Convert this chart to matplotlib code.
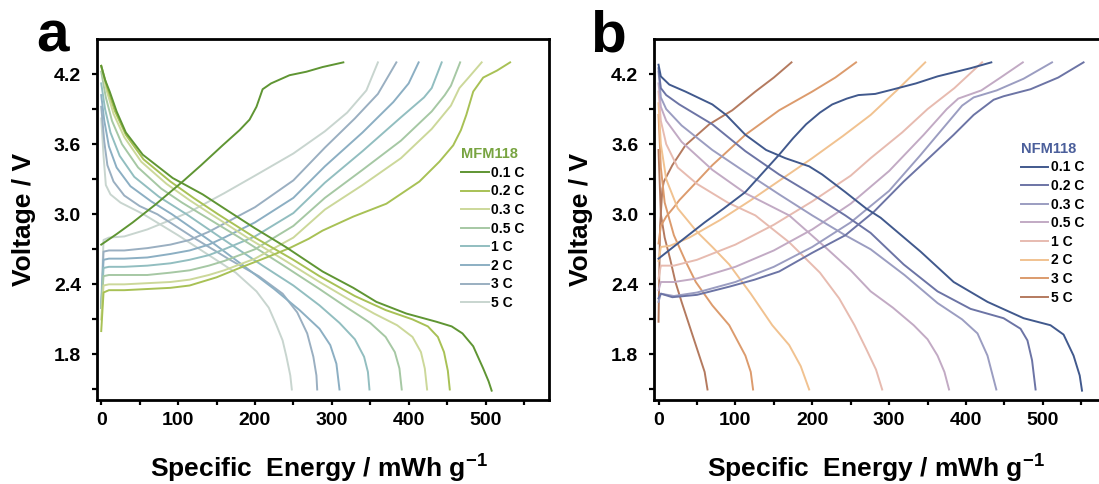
import matplotlib
matplotlib.use("Agg")
import matplotlib.pyplot as plt
from matplotlib.ticker import MultipleLocator

plt.rcParams["font.family"] = ["Liberation Sans", "DejaVu Sans"]
plt.rcParams["font.weight"] = "bold"
plt.rcParams["mathtext.fontset"] = "custom"
plt.rcParams["mathtext.rm"] = "Liberation Sans:bold"
plt.rcParams["mathtext.default"] = "rm"

RATES = ["0.1 C", "0.2 C", "0.3 C", "0.5 C", "1 C", "2 C", "3 C", "5 C"]

# ---- panel a : MFM118 (x = mWh/g, v = V) ----
A_COLORS = ["#5f9533", "#a8c155", "#ccd89a", "#a6c8a4", "#92bec0", "#8cafc3", "#9aafc1", "#c8d5cf"]
A_DIS_X = [
    [0, 5, 11, 20, 32, 54, 93, 132, 167, 200, 240, 288, 328, 358, 397, 436, 456, 470, 484, 497, 504, 508],
    [0, 8, 18, 32, 55, 90, 120, 152, 200, 250, 284, 330, 370, 405, 425, 438, 446, 451, 453.5],
    [0, 7, 16, 30, 52, 85, 115, 143, 190, 240, 284, 320, 355, 385, 405, 416, 421, 424],
    [0, 6, 14, 27, 48, 78, 105, 130, 180, 235, 284, 320, 350, 370, 382, 388, 391],
    [0, 5, 12, 24, 43, 75, 111, 160, 210, 250, 284, 310, 330, 342, 347, 349],
    [0, 4, 10, 20, 38, 65, 92, 140, 185, 225, 258, 284, 298, 306, 310],
    [0, 4, 8, 16, 30, 50, 73, 120, 165, 205, 236, 255, 268, 276, 280, 281],
    [0, 3, 6, 12, 25, 40, 55, 100, 140, 175, 202, 218, 228, 236, 241, 246, 248],
]
A_DIS_V = [
    [4.27, 4.15, 4.05, 3.88, 3.70, 3.51, 3.31, 3.17, 3.02, 2.88, 2.72, 2.51, 2.37, 2.25, 2.15, 2.08, 2.04, 1.98, 1.87, 1.68, 1.57, 1.49],
    [4.27, 4.08, 3.88, 3.68, 3.47, 3.28, 3.14, 3.00, 2.80, 2.61, 2.47, 2.30, 2.18, 2.10, 2.04, 1.95, 1.82, 1.66, 1.50],
    [4.27, 4.06, 3.86, 3.66, 3.45, 3.26, 3.12, 3.00, 2.80, 2.60, 2.42, 2.28, 2.15, 2.05, 1.95, 1.82, 1.68, 1.50],
    [4.22, 4.00, 3.80, 3.60, 3.40, 3.22, 3.10, 3.00, 2.80, 2.57, 2.36, 2.20, 2.07, 1.95, 1.82, 1.68, 1.50],
    [4.12, 3.90, 3.70, 3.50, 3.32, 3.15, 3.00, 2.78, 2.56, 2.39, 2.22, 2.07, 1.93, 1.78, 1.65, 1.50],
    [4.02, 3.80, 3.58, 3.40, 3.24, 3.11, 3.00, 2.78, 2.56, 2.36, 2.18, 2.02, 1.88, 1.72, 1.50],
    [3.92, 3.62, 3.42, 3.28, 3.16, 3.07, 3.00, 2.80, 2.62, 2.47, 2.32, 2.16, 1.98, 1.78, 1.62, 1.50],
    [3.82, 3.50, 3.25, 3.17, 3.10, 3.05, 3.00, 2.82, 2.65, 2.50, 2.34, 2.20, 2.05, 1.92, 1.78, 1.62, 1.50],
]
A_CH_X = [
    [0, 20, 41, 70, 106, 130, 158, 180, 193, 202, 210, 221, 245, 267, 288, 315],
    [0, 3, 10, 30, 60, 90, 115, 150, 180, 215, 245, 270, 288, 328, 371, 414, 440, 458, 468, 475, 484, 497, 515, 532],
    [0, 3, 10, 30, 60, 90, 115, 140, 160, 200, 250, 291, 340, 390, 430, 455, 466, 478, 495],
    [0, 3, 10, 30, 60, 90, 115, 140, 160, 200, 250, 291, 340, 390, 430, 447, 455, 467],
    [0, 3, 10, 30, 60, 90, 115, 140, 160, 200, 250, 291, 340, 390, 420, 430, 443],
    [0, 3, 10, 30, 60, 90, 115, 140, 160, 200, 250, 291, 340, 380, 400, 413],
    [0, 3, 10, 30, 60, 90, 115, 140, 160, 200, 250, 291, 330, 360, 384],
    [0, 3, 10, 30, 60, 90, 115, 160, 200, 250, 291, 320, 345, 360],
]
A_CH_V = [
    [2.74, 2.83, 2.93, 3.08, 3.28, 3.42, 3.59, 3.72, 3.81, 3.92, 4.07, 4.12, 4.19, 4.22, 4.26, 4.30],
    [2.00, 2.33, 2.35, 2.35, 2.36, 2.37, 2.39, 2.46, 2.54, 2.63, 2.71, 2.79, 2.86, 2.98, 3.09, 3.28, 3.45, 3.59, 3.72, 3.85, 4.05, 4.17, 4.23, 4.30],
    [2.10, 2.39, 2.40, 2.40, 2.41, 2.42, 2.44, 2.48, 2.52, 2.62, 2.80, 3.04, 3.25, 3.48, 3.73, 3.93, 4.08, 4.17, 4.30],
    [2.20, 2.47, 2.48, 2.48, 2.48, 2.50, 2.52, 2.56, 2.60, 2.70, 2.90, 3.14, 3.38, 3.63, 3.88, 4.02, 4.10, 4.30],
    [2.20, 2.54, 2.55, 2.55, 2.56, 2.58, 2.61, 2.65, 2.70, 2.81, 3.01, 3.27, 3.54, 3.83, 4.00, 4.08, 4.30],
    [2.20, 2.61, 2.62, 2.62, 2.63, 2.66, 2.69, 2.74, 2.80, 2.93, 3.14, 3.41, 3.70, 3.96, 4.12, 4.30],
    [2.20, 2.68, 2.69, 2.69, 2.71, 2.74, 2.78, 2.85, 2.92, 3.06, 3.29, 3.57, 3.82, 4.03, 4.30],
    [2.25, 2.78, 2.80, 2.81, 2.87, 2.95, 3.02, 3.18, 3.33, 3.52, 3.71, 3.87, 4.06, 4.30],
]

# ---- panel b : NFM118 ----
B_COLORS = ["#41598d", "#6c74a5", "#9b9dc1", "#c2aac4", "#e7bbb0", "#f1c290", "#dc9b6d", "#b47a5f"]
B_DIS_X = [
    [0, 3, 14, 35, 70, 88, 113, 140, 165, 196, 213, 243, 270, 289, 341, 384, 428, 475, 510, 527, 540, 548, 551],
    [0, 3, 10, 27, 70, 113, 157, 200, 243, 276, 319, 363, 406, 449, 471, 480, 486, 490.6],
    [0, 3, 10, 30, 70, 113, 157, 200, 243, 276, 320, 363, 395, 415, 428, 439.5],
    [0, 3, 10, 30, 70, 113, 170, 220, 250, 276, 305, 332, 350, 363, 372, 378],
    [0, 3, 10, 25, 50, 90, 126, 170, 210, 235, 255, 270, 283, 291],
    [0, 3, 10, 25, 50, 70, 92, 120, 148, 170, 185, 196],
    [0, 3, 8, 20, 35, 48.5, 70, 92, 113, 120, 123],
    [0, 3, 8, 15, 22, 30, 40, 53, 60, 63.7],
]
B_DIS_V = [
    [4.28, 4.18, 4.11, 4.05, 3.94, 3.85, 3.68, 3.55, 3.48, 3.41, 3.34, 3.19, 3.05, 2.97, 2.68, 2.42, 2.25, 2.11, 2.05, 1.97, 1.79, 1.62, 1.49],
    [4.25, 4.08, 4.02, 3.94, 3.77, 3.54, 3.34, 3.17, 2.99, 2.84, 2.57, 2.34, 2.19, 2.11, 2.02, 1.92, 1.75, 1.50],
    [4.22, 4.00, 3.90, 3.76, 3.55, 3.36, 3.17, 2.99, 2.82, 2.70, 2.48, 2.24, 2.10, 1.98, 1.79, 1.50],
    [4.12, 3.92, 3.80, 3.62, 3.38, 3.18, 2.99, 2.70, 2.52, 2.34, 2.20, 2.05, 1.93, 1.79, 1.65, 1.50],
    [4.05, 3.80, 3.60, 3.40, 3.26, 3.10, 2.99, 2.76, 2.50, 2.28, 2.05, 1.85, 1.67, 1.50],
    [3.95, 3.60, 3.30, 3.05, 2.85, 2.72, 2.57, 2.32, 2.05, 1.88, 1.70, 1.50],
    [3.85, 3.40, 3.10, 2.82, 2.60, 2.42, 2.22, 2.05, 1.79, 1.65, 1.50],
    [3.55, 3.00, 2.80, 2.62, 2.42, 2.25, 2.05, 1.79, 1.65, 1.50],
]
B_CH_X = [
    [0, 27, 60, 85, 113, 135, 157, 175, 192, 210, 226, 245, 260, 282, 306, 335, 363, 406, 433],
    [0, 3, 18, 50, 92, 125, 157, 200, 243, 280, 319, 350, 384, 410, 436, 449, 484, 520, 553],
    [0, 3, 20, 50, 100, 150, 200, 250, 300, 340, 363, 395, 410, 440, 475, 512],
    [0, 3, 20, 50, 100, 150, 200, 250, 300, 345, 375, 390, 420, 445, 474],
    [0, 3, 20, 50, 100, 150, 200, 250, 276, 317, 350, 385, 421],
    [0, 3, 15, 40, 80, 120, 160, 200, 240, 276, 310, 347],
    [0, 3, 10, 20, 27, 50, 70, 113, 157, 200, 230, 257],
    [0, 2, 5, 7, 18, 35, 66, 96, 126, 150, 173],
]
B_CH_V = [
    [2.62, 2.76, 2.93, 3.05, 3.19, 3.35, 3.51, 3.65, 3.77, 3.87, 3.94, 3.99, 4.02, 4.03, 4.07, 4.12, 4.18, 4.25, 4.30],
    [2.28, 2.32, 2.29, 2.31, 2.38, 2.44, 2.51, 2.67, 2.82, 3.02, 3.28, 3.47, 3.68, 3.85, 3.98, 4.01, 4.07, 4.17, 4.30],
    [2.25, 2.32, 2.30, 2.33, 2.42, 2.55, 2.72, 2.93, 3.20, 3.50, 3.68, 3.93, 4.00, 4.06, 4.16, 4.30],
    [2.35, 2.42, 2.42, 2.45, 2.55, 2.69, 2.87, 3.09, 3.37, 3.68, 3.90, 3.99, 4.06, 4.17, 4.30],
    [2.45, 2.56, 2.56, 2.61, 2.74, 2.91, 3.11, 3.33, 3.48, 3.70, 3.90, 4.08, 4.30],
    [2.60, 2.72, 2.73, 2.80, 2.95, 3.12, 3.30, 3.48, 3.67, 3.85, 4.06, 4.30],
    [2.75, 2.90, 2.98, 3.06, 3.12, 3.28, 3.42, 3.68, 3.89, 4.05, 4.17, 4.30],
    [2.08, 2.90, 3.22, 3.28, 3.42, 3.59, 3.77, 3.89, 4.05, 4.17, 4.30],
]

W, H = 1099, 484
fig = plt.figure(figsize=(W / 100, H / 100), dpi=100)


def panel(left_px, letter, letter_px, colors, dis_x, dis_v, ch_x, ch_v, title, tcolor, leg_xy):
    ax = fig.add_axes([left_px / W, 1 - 400 / H, 452.3 / W, 361 / H])
    handles = []
    for i in range(len(RATES) - 1, -1, -1):
        ax.plot(ch_x[i], ch_v[i], color=colors[i], lw=1.4, solid_joinstyle="round")
        ln, = ax.plot(dis_x[i], dis_v[i], color=colors[i], lw=1.4, solid_joinstyle="round",
                      label=RATES[i])
        handles.insert(0, ln)
    ax.set_xlim(-5.5, 583)
    ax.set_ylim(1.41, 4.5)
    ax.xaxis.set_major_locator(MultipleLocator(100))
    ax.xaxis.set_minor_locator(MultipleLocator(50))
    ax.set_yticks([1.8, 2.4, 3.0, 3.6, 4.2])
    ax.set_yticks([1.5, 2.1, 2.7, 3.3, 3.9], minor=True)
    for s in ax.spines.values():
        s.set_linewidth(2.0)
    ax.tick_params(which="both", direction="out", length=3.5, width=1.6, top=False, right=False)
    ax.tick_params(axis="y", which="major", pad=8, labelsize=14)
    ax.tick_params(axis="x", which="major", pad=5, labelsize=14)
    for lab in ax.get_xticklabels() + ax.get_yticklabels():
        lab.set_fontweight("bold")
    ax.set_ylabel("Voltage / V", fontsize=19, fontweight="bold")
    ax.yaxis.set_label_coords(-0.135, 0.5)
    ax.set_xlabel("Specific  Energy / mWh g$^{-1}$", fontsize=19, fontweight="bold")
    ax.xaxis.set_label_coords(0.49, -0.145)
    leg = ax.legend(handles=handles, title=title, loc="upper left", bbox_to_anchor=leg_xy,
                    frameon=False, fontsize=10, handlelength=2.0, handletextpad=0.15,
                    labelspacing=0.33, borderpad=0, borderaxespad=0, alignment="left",
                    title_fontproperties={"weight": "bold", "size": 10.5})
    leg.get_title().set_color(tcolor)
    fig.text(letter_px / W, 1 - 52 / H, letter, fontsize=42, fontweight="bold", va="baseline")
    return ax


panel(97, "a", 36, A_COLORS, A_DIS_X, A_DIS_V, A_CH_X, A_CH_V, "MFM118", "#78a441", (0.805, 0.70))
panel(654.3, "b", 590, B_COLORS, B_DIS_X, B_DIS_V, B_CH_X, B_CH_V, "NFM118", "#4b5f9b", (0.81, 0.715))

fig.savefig("out.png", dpi=100)
